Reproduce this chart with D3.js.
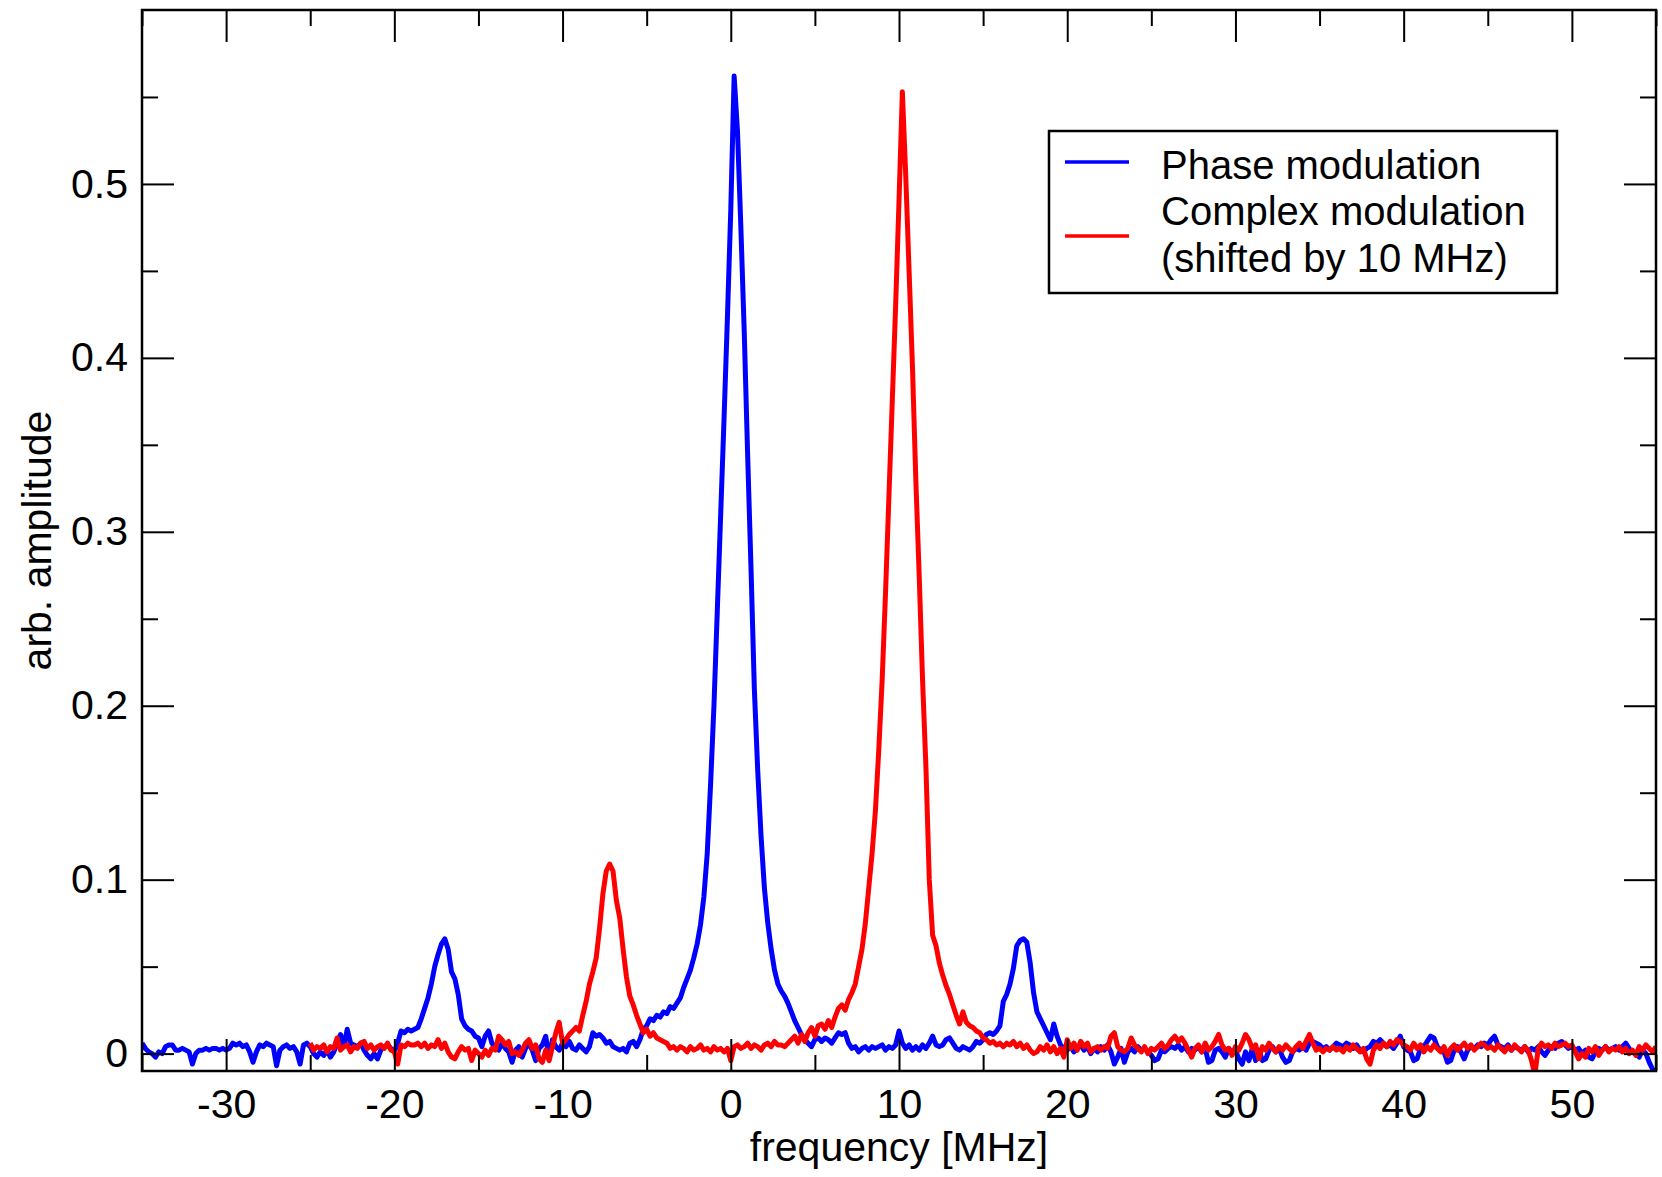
<!DOCTYPE html>
<html>
<head>
<meta charset="utf-8">
<script src="https://cdn.jsdelivr.net/npm/d3@7"></script>
<style>
  html, body { margin: 0; padding: 0; background: #ffffff; }
  svg { display: block; }
  text { font-family: "Liberation Sans", Arial, Helvetica, sans-serif; fill: #000; }
</style>
</head>
<body>
<svg id="chart" width="1662" height="1177"></svg>
<script>
// ---------------- data ----------------
// frequency grid (MHz) of each trace: start, step
const blueStart = -35, blueStep = 0.2;
const redStart = -25, redStep = 0.2;

// Phase modulation (blue), -35 ... 55 MHz
const phaseModulation = [
  0.006,0.003,0.001,0.000,-0.002,0.001,0.000,0.004,0.005,0.005,0.002,0.002,0.003,0.002,0.001,-0.006,0.000,0.002,0.002,0.003,0.002,0.003,0.003,0.002,0.003,
  0.002,0.003,0.006,0.005,0.006,0.004,0.005,0.001,-0.005,0.001,0.005,0.004,0.006,0.005,0.004,-0.007,0.002,0.004,0.005,0.003,0.004,0.001,-0.006,0.005,0.006,
  0.004,0.000,-0.002,0.001,-0.001,0.002,-0.002,0.001,0.006,0.011,0.004,0.014,0.006,0.005,0.004,0.006,0.002,-0.001,-0.003,0.000,-0.003,0.002,0.004,0.005,0.003,
  0.001,0.006,0.013,0.012,0.014,0.013,0.014,0.015,0.020,0.026,0.032,0.040,0.050,0.057,0.063,0.066,0.060,0.047,0.043,0.034,0.020,0.016,0.014,0.013,0.010,
  0.009,0.004,0.010,0.013,0.006,0.004,0.002,0.006,0.003,0.001,-0.005,0.002,0.004,-0.002,0.003,0.006,0.002,-0.004,0.003,0.005,0.010,-0.003,0.008,0.004,0.002,
  0.006,0.004,0.007,0.003,0.002,0.005,0.003,0.001,0.004,0.012,0.010,0.011,0.009,0.006,0.007,0.004,0.003,0.002,0.003,0.001,0.006,0.007,0.004,0.008,0.014,
  0.016,0.020,0.019,0.022,0.021,0.024,0.023,0.027,0.026,0.029,0.032,0.038,0.043,0.048,0.055,0.063,0.074,0.090,0.115,0.155,0.200,0.255,0.310,0.365,0.423,
  0.485,0.562,0.530,0.475,0.415,0.345,0.280,0.210,0.163,0.125,0.095,0.075,0.060,0.048,0.040,0.036,0.033,0.029,0.024,0.019,0.015,0.011,0.008,0.006,0.004,
  0.008,0.009,0.007,0.009,0.008,0.006,0.009,0.012,0.011,0.012,0.006,0.003,0.004,0.001,0.003,0.004,0.002,0.004,0.003,0.004,0.005,0.002,0.004,0.003,0.005,
  0.013,0.006,0.003,0.005,0.002,0.004,0.002,0.005,0.003,0.006,0.010,0.005,0.004,0.005,0.008,0.009,0.006,0.003,0.002,0.004,0.003,0.002,0.004,0.007,0.006,
  0.008,0.011,0.012,0.011,0.013,0.016,0.030,0.034,0.040,0.049,0.062,0.065,0.066,0.064,0.052,0.035,0.024,0.020,0.016,0.012,0.008,0.017,0.010,0.005,0.003,
  0.002,0.004,0.001,0.003,0.005,0.002,0.004,0.000,0.003,0.001,0.004,0.002,0.005,0.001,-0.006,-0.002,0.003,-0.005,0.001,0.003,0.001,0.004,0.002,0.003,0.001,
  -0.001,-0.004,-0.003,0.002,0.001,0.003,0.004,0.003,0.005,0.002,0.004,0.001,0.003,0.002,0.004,0.001,0.003,-0.005,-0.004,0.002,0.003,0.001,-0.002,0.003,0.001,
  0.002,-0.003,-0.006,0.001,-0.004,0.003,-0.004,0.002,-0.004,-0.003,0.002,0.004,0.001,0.003,-0.002,-0.005,-0.004,0.001,0.003,0.002,0.004,0.002,0.006,0.007,0.006,
  0.005,0.003,0.004,0.002,0.004,0.006,0.005,0.004,0.006,0.005,0.003,0.005,0.002,0.001,0.003,0.004,0.007,0.006,0.008,0.006,0.004,0.005,0.003,0.006,0.010,
  0.004,0.002,0.001,-0.004,-0.003,0.003,0.004,0.007,0.010,0.009,0.004,0.002,0.001,-0.005,-0.004,0.002,0.004,0.001,-0.003,0.002,0.004,0.003,0.005,0.004,0.006,
  0.005,0.008,0.010,0.005,0.004,0.003,0.005,0.002,0.004,0.003,0.002,0.004,0.001,0.003,0.002,0.004,0.001,-0.001,0.002,0.004,0.003,0.006,0.007,0.005,0.003,
  0.004,0.002,0.003,0.000,0.002,-0.002,-0.003,0.001,0.003,0.002,0.004,0.002,0.003,0.004,0.002,0.004,0.006,0.003,0.001,0.000,-0.002,0.002,0.000,-0.005,-0.009,-0.011
];

// Complex modulation shifted by 10 MHz (red), -25 ... 55 MHz
const complexModulation = [
  0.006,0.002,0.004,0.003,0.005,0.001,0.004,0.003,0.009,0.002,0.004,0.005,0.001,0.004,0.003,0.006,0.007,0.003,0.005,0.002,0.004,0.005,0.003,0.006,0.002,
  0.001,-0.006,0.005,0.004,0.006,0.005,0.005,0.006,0.004,0.006,0.003,0.005,0.004,0.008,0.003,0.006,0.001,-0.002,-0.003,0.001,0.004,0.002,0.003,-0.004,0.002,
  0.000,-0.002,0.002,-0.001,0.003,0.002,0.010,0.008,0.005,0.007,0.000,0.001,-0.001,0.002,0.006,0.008,0.003,0.005,-0.003,-0.005,0.002,-0.004,0.004,0.012,0.018,
  0.006,0.008,0.011,0.013,0.015,0.013,0.022,0.030,0.040,0.047,0.055,0.072,0.092,0.105,0.109,0.105,0.088,0.078,0.060,0.044,0.033,0.028,0.022,0.017,0.012,
  0.014,0.010,0.012,0.009,0.008,0.007,0.006,0.003,0.004,0.002,0.004,0.003,0.001,0.004,0.002,0.003,0.005,0.002,0.003,0.001,0.004,0.002,0.003,0.001,0.003,
  -0.004,0.004,0.005,0.003,0.004,0.006,0.003,0.005,0.004,0.002,0.005,0.006,0.004,0.007,0.005,0.005,0.004,0.006,0.008,0.010,0.006,0.011,0.007,0.012,0.015,
  0.010,0.016,0.017,0.014,0.019,0.015,0.021,0.026,0.028,0.025,0.031,0.035,0.040,0.050,0.060,0.075,0.095,0.115,0.140,0.175,0.215,0.265,0.320,0.375,0.430,
  0.490,0.553,0.505,0.450,0.395,0.330,0.275,0.215,0.165,0.100,0.068,0.062,0.052,0.045,0.039,0.034,0.028,0.022,0.017,0.024,0.018,0.016,0.015,0.013,0.012,
  0.009,0.008,0.006,0.007,0.005,0.006,0.004,0.006,0.005,0.007,0.004,0.006,0.003,0.005,0.002,0.000,0.001,0.004,0.002,0.005,0.001,0.004,0.000,0.003,-0.002,
  0.008,0.003,0.006,0.002,0.007,0.004,0.006,0.001,0.003,0.004,0.002,0.004,0.003,0.010,0.012,0.004,0.002,0.001,0.003,0.009,0.005,0.003,0.001,0.004,0.000,
  0.003,0.002,0.004,0.006,0.003,0.005,0.008,0.010,0.007,0.009,0.006,0.002,-0.002,0.003,0.005,0.001,0.006,0.002,0.004,0.007,0.011,0.005,0.002,0.003,-0.001,
  0.004,0.002,0.006,0.011,0.008,0.003,0.005,-0.003,0.004,0.002,0.006,0.003,0.001,0.004,0.002,0.005,0.003,0.001,0.004,0.006,0.003,0.007,0.011,0.006,0.002,
  0.003,0.001,0.003,0.002,0.004,0.002,0.003,0.001,0.004,0.002,0.005,0.003,0.001,0.003,-0.003,-0.006,0.002,0.005,0.003,0.006,0.004,0.007,0.005,0.008,0.007,
  0.005,0.004,0.002,0.006,0.003,0.005,0.001,0.004,0.002,0.005,0.003,0.001,0.004,-0.001,0.003,0.005,0.002,0.004,0.006,0.003,0.005,0.002,0.004,0.006,0.005,
  0.003,0.004,0.002,0.005,0.003,0.001,0.004,0.002,0.005,0.003,0.001,0.004,0.002,-0.004,-0.012,0.003,0.006,0.004,0.005,0.003,0.006,0.004,0.005,0.006,0.004,
  0.005,0.001,-0.003,0.000,-0.002,0.003,0.001,0.004,-0.001,0.002,0.004,0.001,0.003,0.002,0.004,0.001,0.003,0.000,0.002,-0.001,0.004,0.002,0.005,0.003,0.001,0.004
];

const seriesNames = ["Phase modulation", "Complex modulation", "(shifted by 10 MHz)"];
const seriesColors = ["#0000ff", "#ff0000"];

const xDomain = [-35, 55];
const yDomain = [-0.01, 0.6];
const xMajorTicks = [-30, -20, -10, 0, 10, 20, 30, 40, 50];
const xMinorTicks = [-35, -25, -15, -5, 5, 15, 25, 35, 45, 55];
const yMajorTicks = [0, 0.1, 0.2, 0.3, 0.4, 0.5];
const yTickLabels = ["0", "0.1", "0.2", "0.3", "0.4", "0.5"];
const yMinorTicks = [0.05, 0.15, 0.25, 0.35, 0.45, 0.55];
const xTitle = "frequency [MHz]";
const yTitle = "arb. amplitude";

// ---------------- layout ----------------
const L = 142, R = 1656, T = 10, B = 1071;
const svg = d3.select("#chart");

const x = d3.scaleLinear().domain(xDomain).range([L, R]);
const y = d3.scaleLinear().domain(yDomain).range([B, T]);

const blue = phaseModulation.map((v, i) => ({ f: blueStart + i * blueStep, v }));
const red = complexModulation.map((v, i) => ({ f: redStart + i * redStep, v }));

svg.append("defs").append("clipPath").attr("id", "plotclip")
  .append("rect").attr("x", L).attr("y", T).attr("width", R - L).attr("height", B - T);

const line = d3.line().x(d => x(d.f)).y(d => y(d.v));

const plot = svg.append("g").attr("clip-path", "url(#plotclip)");
plot.append("path").datum(blue)
  .attr("d", line).attr("fill", "none").attr("stroke", seriesColors[0])
  .attr("stroke-width", 5).attr("stroke-linejoin", "round");
plot.append("path").datum(red)
  .attr("d", line).attr("fill", "none").attr("stroke", seriesColors[1])
  .attr("stroke-width", 5).attr("stroke-linejoin", "round");

// ---------------- axes (inward ticks on all sides) ----------------
const fontSize = 41;
function styleAxis(g) {
  g.select(".domain").remove();
  g.selectAll(".tick line").attr("stroke", "#000").attr("stroke-width", 2);
  g.selectAll(".tick text").attr("font-size", fontSize)
    .attr("font-family", '"Liberation Sans", Arial, Helvetica, sans-serif').attr("fill", "#000");
}

// bottom
svg.append("g").attr("transform", `translate(0,${B})`)
  .call(d3.axisBottom(x).tickValues(xMajorTicks).tickSize(-32).tickPadding(18).tickFormat(d => String(d)))
  .call(styleAxis);
svg.append("g").attr("transform", `translate(0,${B})`)
  .call(d3.axisBottom(x).tickValues(xMinorTicks).tickSize(-16).tickFormat(""))
  .call(styleAxis);
// top
svg.append("g").attr("transform", `translate(0,${T})`)
  .call(d3.axisTop(x).tickValues(xMajorTicks).tickSize(-32).tickFormat(""))
  .call(styleAxis);
svg.append("g").attr("transform", `translate(0,${T})`)
  .call(d3.axisTop(x).tickValues(xMinorTicks).tickSize(-16).tickFormat(""))
  .call(styleAxis);
// left
svg.append("g").attr("transform", `translate(${L},0)`)
  .call(d3.axisLeft(y).tickValues(yMajorTicks).tickSize(-32).tickPadding(14)
    .tickFormat((d, i) => yTickLabels[i]))
  .call(styleAxis);
svg.append("g").attr("transform", `translate(${L},0)`)
  .call(d3.axisLeft(y).tickValues(yMinorTicks).tickSize(-16).tickFormat(""))
  .call(styleAxis);
// right
svg.append("g").attr("transform", `translate(${R},0)`)
  .call(d3.axisRight(y).tickValues(yMajorTicks).tickSize(-32).tickFormat(""))
  .call(styleAxis);
svg.append("g").attr("transform", `translate(${R},0)`)
  .call(d3.axisRight(y).tickValues(yMinorTicks).tickSize(-16).tickFormat(""))
  .call(styleAxis);

// frame
svg.append("rect").attr("x", L).attr("y", T).attr("width", R - L).attr("height", B - T)
  .attr("fill", "none").attr("stroke", "#000").attr("stroke-width", 2.5);

// titles
svg.append("text").attr("x", (L + R) / 2).attr("y", 1161)
  .attr("text-anchor", "middle").attr("font-size", fontSize).text(xTitle);
svg.append("text").attr("transform", `translate(51,${(T + B) / 2}) rotate(-90)`)
  .attr("text-anchor", "middle").attr("font-size", fontSize).text(yTitle);

// ---------------- legend ----------------
const lg = svg.append("g");
lg.append("rect").attr("x", 1049).attr("y", 131).attr("width", 508).attr("height", 162)
  .attr("fill", "#fff").attr("stroke", "#000").attr("stroke-width", 2.5);
const legendFont = 40;
lg.append("line").attr("x1", 1065).attr("x2", 1129).attr("y1", 162).attr("y2", 162)
  .attr("stroke", seriesColors[0]).attr("stroke-width", 3.5);
lg.append("line").attr("x1", 1065).attr("x2", 1129).attr("y1", 236).attr("y2", 236)
  .attr("stroke", seriesColors[1]).attr("stroke-width", 3.5);
lg.append("text").attr("x", 1161).attr("y", 179).attr("font-size", legendFont).text(seriesNames[0]);
lg.append("text").attr("x", 1161).attr("y", 225).attr("font-size", legendFont).text(seriesNames[1]);
lg.append("text").attr("x", 1161).attr("y", 272).attr("font-size", legendFont).text(seriesNames[2]);
</script>
</body>
</html>
